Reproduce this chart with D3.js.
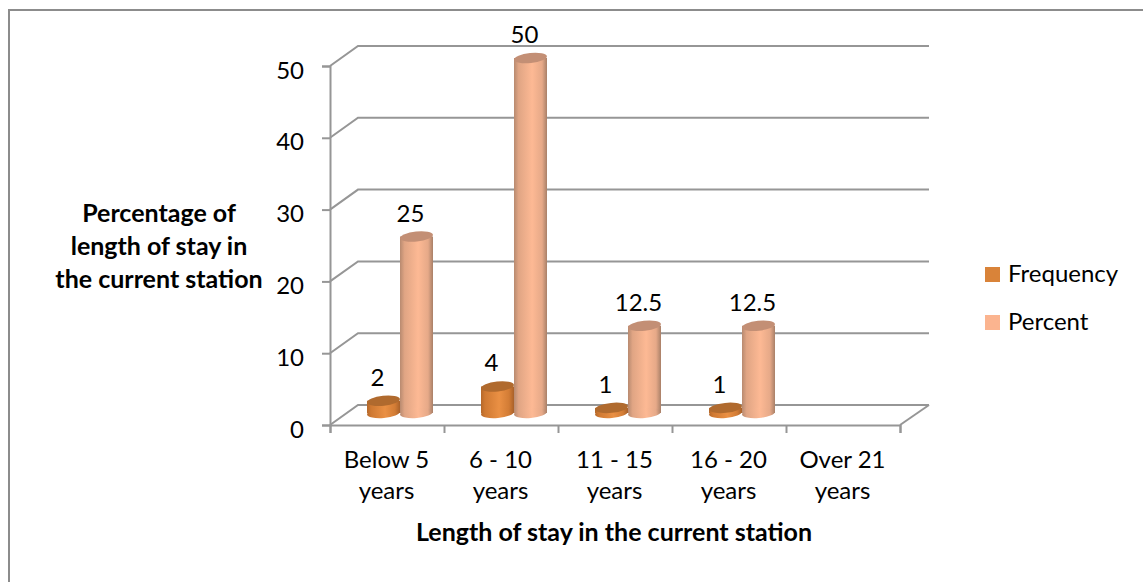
<!DOCTYPE html>
<html>
<head>
<meta charset="utf-8">
<script src="https://cdn.jsdelivr.net/npm/d3@7"></script>
<style>
html, body { margin: 0; padding: 0; background: #fff; }
svg { display: block; }
text { font-family: Lato, "Open Sans", sans-serif; fill: #000; }
.tick-label { font-size: 24px; }
.axis-title { font-size: 25px; font-weight: bold; }
</style>
</head>
<body>
<svg id="chart" width="1143" height="582"></svg>
<script>
const categories = [["Below 5", "years"], ["6 - 10", "years"], ["11 - 15", "years"], ["16 - 20", "years"], ["Over 21", "years"]];
const frequency = [2, 4, 1, 1, null];
const percent = [25, 50, 12.5, 12.5, null];
const yTicks = [0, 10, 20, 30, 40, 50];
const seriesNames = ["Frequency", "Percent"];
const yTitle = ["Percentage of", "length of stay in", "the current station"];
const xTitle = "Length of stay in the current station";

const SVG_WIDTH = 1143;
const SVG_HEIGHT = 582;
const DEPTH_X = 28;
const DEPTH_Y = -20;
const AXIS_COLOR = "#969696";

var svg = d3.select("#chart");

svg.append("path")
    .attr("d", "M9," + SVG_HEIGHT + "V10H" + SVG_WIDTH)
    .attr("fill", "none")
    .attr("stroke", "#8c8c8c")
    .attr("stroke-width", 2);

var xScale = d3.scaleBand()
    .domain(d3.range(categories.length))
    .range([330, 900]);
var yScale = d3.scaleLinear()
    .domain([0, 50])
    .range([425, 66]);

var defs = svg.append("defs");
function addGradient(id, stops) {
    var g = defs.append("linearGradient").attr("id", id);
    stops.forEach(function(s) {
        g.append("stop").attr("offset", s[0]).attr("stop-color", s[1]);
    });
}
addGradient("freqBody", [[0, "#b5682a"], [0.12, "#cf7932"], [0.55, "#ea9044"], [0.85, "#d27c35"], [1, "#a9612a"]]);
addGradient("pctBody", [[0, "#b88a70"], [0.14, "#e0a584"], [0.55, "#fdb994"], [0.85, "#e6a988"], [1, "#a98068"]]);

// back wall and floor
var wall = svg.append("g")
    .attr("stroke", AXIS_COLOR)
    .attr("stroke-width", 2)
    .attr("fill", "none");
yTicks.forEach(function(t) {
    var y = yScale(t);
    wall.append("path")
        .attr("d", d3.line()([[330, y], [330 + DEPTH_X, y + DEPTH_Y], [929, y + DEPTH_Y]]));
});
wall.append("line")
    .attr("x1", 900).attr("y1", yScale(0))
    .attr("x2", 929).attr("y2", yScale(0) + DEPTH_Y);

// y axis and x axis on the front edge
var yAxisGroup = svg.append("g")
    .attr("transform", "translate(330,0)")
    .call(d3.axisLeft(yScale).tickValues(yTicks).tickSize(8).tickPadding(18));
var xAxisGroup = svg.append("g")
    .attr("transform", "translate(0," + yScale(0) + ")")
    .call(d3.axisBottom(d3.scaleLinear().domain([0, 5]).range([330, 900]))
        .ticks(5).tickSize(8).tickFormat(""));
svg.selectAll(".domain, .tick line")
    .attr("stroke", AXIS_COLOR)
    .attr("stroke-width", 2);
yAxisGroup.selectAll("text")
    .attr("class", "tick-label")
    .attr("fill", "#000")
    .attr("dy", "0.5em");

// cylinders
var barWidth = 33;
var barOffset = 37;
var valueScale = d3.scaleLinear().domain([0, 50]).range([415, 58]);

function drawCylinder(value, x, body, top) {
    var rx = barWidth / 2;
    var cx = x + rx;
    var yBase = 413;
    var yTop = valueScale(value);
    var g = svg.append("g");
    g.append("rect")
        .attr("x", x).attr("y", yTop)
        .attr("width", barWidth).attr("height", yBase - yTop)
        .attr("fill", "url(#" + body + ")");
    g.append("ellipse")
        .attr("cx", cx).attr("cy", yBase)
        .attr("rx", rx).attr("ry", 5)
        .attr("transform", "rotate(-5 " + cx + " " + yBase + ")")
        .attr("fill", "url(#" + body + ")");
    g.append("ellipse")
        .attr("cx", cx).attr("cy", yTop)
        .attr("rx", rx).attr("ry", 5)
        .attr("transform", "rotate(-6 " + cx + " " + yTop + ")")
        .attr("fill", top);
}

function drawLabel(value, x) {
    svg.append("text")
        .attr("class", "tick-label")
        .attr("x", x + barWidth / 2 - 6)
        .attr("y", valueScale(value) - 15)
        .attr("text-anchor", "middle")
        .text(value);
}

categories.forEach(function(c, i) {
    if (frequency[i] === null) return;
    var x0 = xScale(i) + barOffset;
    drawCylinder(percent[i], x0 + barWidth, "pctBody", "#c38f75");
    drawCylinder(frequency[i], x0, "freqBody", "#b06a2e");
    drawLabel(frequency[i], x0);
    drawLabel(percent[i], x0 + barWidth);
});

// category labels
categories.forEach(function(c, i) {
    var t = svg.append("text")
        .attr("class", "tick-label")
        .attr("text-anchor", "middle");
    c.forEach(function(line, j) {
        t.append("tspan")
            .attr("x", xScale(i) + xScale.bandwidth() / 2 - 0.5)
            .attr("y", 468 + j * 31)
            .text(line);
    });
});

svg.append("text")
    .attr("class", "axis-title")
    .attr("x", 614).attr("y", 541)
    .attr("text-anchor", "middle")
    .text(xTitle);

var yTitleText = svg.append("text")
    .attr("class", "axis-title")
    .attr("text-anchor", "middle");
yTitle.forEach(function(line, j) {
    yTitleText.append("tspan")
        .attr("x", 159)
        .attr("y", 222 + j * 33)
        .text(line);
});

// legend
var legendColors = d3.scaleOrdinal().domain(seriesNames).range(["#d98339", "#fbb48f"]);
var legend = svg.selectAll(".legend")
    .data(seriesNames)
    .enter()
    .append("g")
    .attr("class", "legend")
    .attr("transform", function(d, i) {
        return "translate(985," + (267 + i * 48) + ")";
    });
legend.append("rect")
    .attr("width", 15).attr("height", 15)
    .attr("fill", function(d) { return legendColors(d); });
legend.append("text")
    .attr("class", "tick-label")
    .attr("x", 23).attr("y", 15)
    .text(function(d) { return d; });
</script>
</body>
</html>
